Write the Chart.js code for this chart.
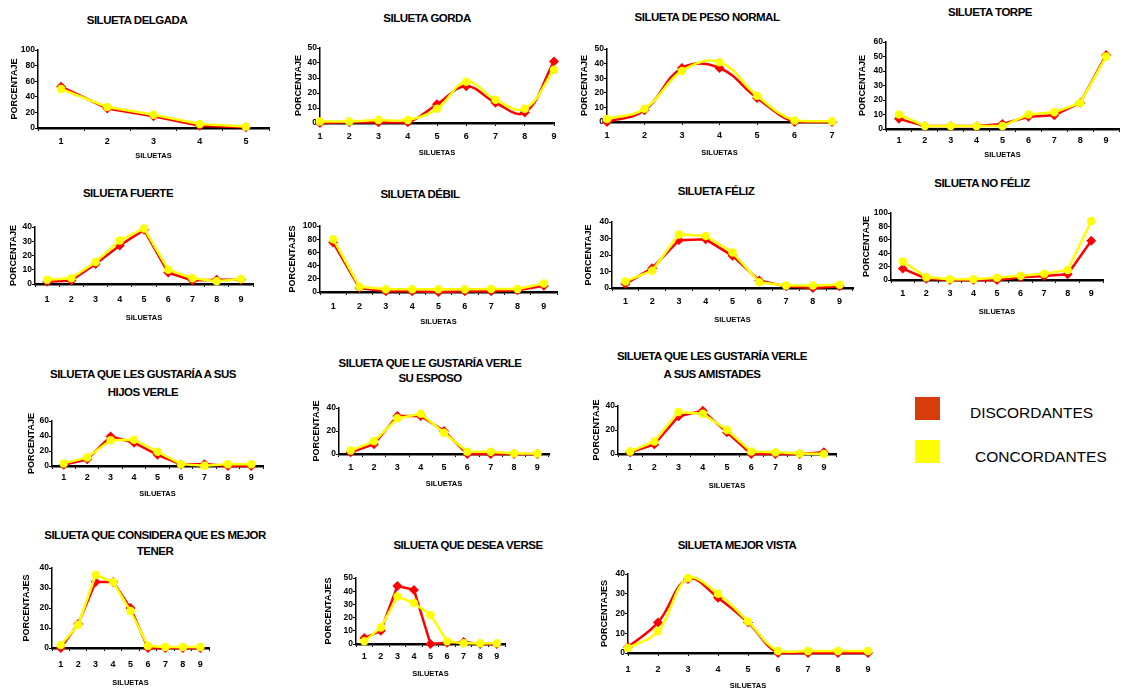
<!DOCTYPE html>
<html>
<head>
<meta charset="utf-8">
<script src="https://cdn.jsdelivr.net/npm/chart.js@4.4.1/dist/chart.umd.min.js"></script>
<style>
  body { margin: 0; width: 1123px; height: 689px; background: #fff; position: relative; overflow: hidden;
         font-family: "Liberation Sans", Arial, sans-serif; }
  .ttl { position: absolute; transform: translate(-50%, -50%); font-weight: bold; font-size: 11.5px;
         letter-spacing: -0.5px; white-space: nowrap; color: #000; }
  .box { position: absolute; }
  .sw { position: absolute; width: 25px; height: 23px; }
  .lt { position: absolute; font-size: 15.5px; color: #000; transform: translateY(-50%); }
</style>
</head>
<body>
<div class="sw" style="left:915px;top:397px;background:#d63c0c"></div>
<div class="lt" style="left:970px;top:413px">DISCORDANTES</div>
<div class="sw" style="left:915px;top:440px;background:#ffff00"></div>
<div class="lt" style="left:975px;top:457px">CONCORDANTES</div>

<script>
// categories
const cats5 = ['1', '2', '3', '4', '5'];
const cats7 = ['1', '2', '3', '4', '5', '6', '7'];
const cats9 = ['1', '2', '3', '4', '5', '6', '7', '8', '9'];

// series: Disc = DISCORDANTES (red), Conc = CONCORDANTES (yellow)
const delgadaDisc = [53, 25, 15, 3, 1];
const delgadaConc = [50, 27, 17, 5, 2];
const gordaDisc = [0, 0.5, 0.5, 0.5, 12.5, 24.5, 13.5, 7, 41];
const gordaConc = [1, 1, 2, 2, 9.5, 27.5, 15.5, 9.5, 35.5];
const pesoDisc = [0, 8, 37, 37, 16.5, 0, 0];
const pesoConc = [2, 9, 35, 41, 18, 1, 0.5];
const torpeDisc = [7, 2, 2, 2, 3.5, 8.5, 9.5, 18, 51];
const torpeConc = [10, 2, 2, 2, 2, 10, 11.5, 18, 50];
const fuerteDisc = [1.5, 2.5, 14, 27, 38, 8, 2.5, 3, 3];
const fuerteConc = [3, 4, 15.5, 30.5, 39, 10, 4, 2, 3.5];
const debilDisc = [75, 6, 1, 1, 0, 1, 1, 2.5, 9.5];
const debilConc = [80, 8, 4, 4, 4, 4, 4.5, 4.5, 13];
const felizDisc = [2.5, 12, 29, 29.5, 19.5, 4.5, 1, 0, 1];
const felizConc = [4, 10.5, 32.5, 31.5, 21.5, 3.5, 1.5, 1.5, 2];
const nofelizDisc = [17, 2, 0, 0, 0, 4, 6, 8.5, 58.5];
const nofelizConc = [27.5, 4, 1, 1, 3.5, 6.5, 9.5, 15, 88];
const hijosDisc = [1.5, 9, 39.5, 31, 15, 2, 2.5, 0, 0];
const hijosConc = [3.5, 11.5, 34.5, 35, 19, 2.5, 0.5, 2.5, 2.5];
const esposoDisc = [1.5, 8.5, 33, 33, 20, 0, 0, 0, 0];
const esposoConc = [3, 11, 31, 35, 18.5, 2, 2, 0.5, 0.5];
const amistadesDisc = [1.5, 8, 31.5, 36, 18, 0, 0, 0, 1.5];
const amistadesConc = [2, 10.5, 35, 33.5, 20, 2, 1.5, 0.5, 0];
const tenerDisc = [0, 12, 33, 33, 20, 0, 0, 0, 0];
const tenerConc = [1.5, 11.5, 36.5, 33, 18.5, 1, 0.5, 0.5, 0.5];
const deseaDisc = [4.5, 10, 44, 41, 0, 1, 1.5, 0, 0];
const deseaConc = [2, 12.5, 36, 31, 22, 2, 0.5, 0.5, 0.5];
const vistaDisc = [3, 15.5, 37.5, 28, 15.5, 0, 0, 0, 0];
const vistaConc = [2.5, 11, 38, 30, 16, 1, 1, 1, 1];

const charts = [
  { title: ['SILUETA DELGADA'], labels: cats5, disc: delgadaDisc, conc: delgadaConc, yMax: 100, yStep: 20, yTitle: 'PORCENTAJE', offset: true },
  { title: ['SILUETA GORDA'], labels: cats9, disc: gordaDisc, conc: gordaConc, yMax: 50, yStep: 10, yTitle: 'PORCENTAJE', offset: false, smooth: true },
  { title: ['SILUETA DE PESO  NORMAL'], labels: cats7, disc: pesoDisc, conc: pesoConc, yMax: 50, yStep: 10, yTitle: 'PORCENTAJE', offset: false, smooth: true },
  { title: ['SILUETA TORPE'], labels: cats9, disc: torpeDisc, conc: torpeConc, yMax: 60, yStep: 10, yTitle: 'PORCENTAJE', offset: true },
  { title: ['SILUETA FUERTE'], labels: cats9, disc: fuerteDisc, conc: fuerteConc, yMax: 40, yStep: 10, yTitle: 'PORCENTAJE', offset: true },
  { title: ['SILUETA DÉBIL'], labels: cats9, disc: debilDisc, conc: debilConc, yMax: 100, yStep: 20, yTitle: 'PORCENTAJES', offset: true },
  { title: ['SILUETA FÉLIZ'], labels: cats9, disc: felizDisc, conc: felizConc, yMax: 40, yStep: 10, yTitle: 'PORCENTAJE', offset: true },
  { title: ['SILUETA NO FÉLIZ'], labels: cats9, disc: nofelizDisc, conc: nofelizConc, yMax: 100, yStep: 20, yTitle: 'PORCENTAJE', offset: true },
  { title: ['SILUETA QUE LES GUSTARÍA A SUS', 'HIJOS  VERLE'], labels: cats9, disc: hijosDisc, conc: hijosConc, yMax: 60, yStep: 20, yTitle: 'PORCENTAJE', offset: true },
  { title: ['SILUETA QUE LE GUSTARÍA VERLE', 'SU ESPOSO'], labels: cats9, disc: esposoDisc, conc: esposoConc, yMax: 40, yStep: 10, yTitle: 'PORCENTAJE', offset: true },
  { title: ['SILUETA QUE LES GUSTARÍA VERLE', 'A SUS AMISTADES'], labels: cats9, disc: amistadesDisc, conc: amistadesConc, yMax: 40, yStep: 10, yTitle: 'PORCENTAJE', offset: true },
  { title: ['SILUETA QUE CONSIDERA QUE ES MEJOR', 'TENER'], labels: cats9, disc: tenerDisc, conc: tenerConc, yMax: 40, yStep: 10, yTitle: 'PORCENTAJES', offset: true },
  { title: ['SILUETA QUE DESEA VERSE'], labels: cats9, disc: deseaDisc, conc: deseaConc, yMax: 50, yStep: 10, yTitle: 'PORCENTAJES', offset: true },
  { title: ['SILUETA MEJOR  VISTA'], labels: cats9, disc: vistaDisc, conc: vistaConc, yMax: 40, yStep: 10, yTitle: 'PORCENTAJES', offset: false, smooth: true }
];

// page positions (px) for each panel: title centre, plot box, tick/title rows
const boxes = [
  { tx: 137, ty: [20], ax: 38, right: 269, top: 50, bottom: 128, tickY: 142, yTitleX: 15, xTitleY: 156 },
  { tx: 427, ty: [18], ax: 320, right: 554, top: 48, bottom: 123, tickY: 137, yTitleX: 299, xTitleY: 153 },
  { tx: 707, ty: [17], ax: 607, right: 832, top: 49, bottom: 122, tickY: 136, yTitleX: 585, xTitleY: 153 },
  { tx: 990, ty: [12], ax: 886, right: 1119, top: 42, bottom: 129, tickY: 141, yTitleX: 863, xTitleY: 155 },
  { tx: 128, ty: [193], ax: 35, right: 253, top: 227, bottom: 284, tickY: 300, yTitleX: 14, xTitleY: 318 },
  { tx: 420, ty: [194], ax: 320, right: 557, top: 226, bottom: 292, tickY: 307, yTitleX: 293, xTitleY: 322 },
  { tx: 716, ty: [191], ax: 612, right: 853, top: 222, bottom: 288, tickY: 302, yTitleX: 589, xTitleY: 320 },
  { tx: 982, ty: [183], ax: 891, right: 1103, top: 213, bottom: 280, tickY: 294, yTitleX: 867, xTitleY: 312 },
  { tx: 143, ty: [374, 392], ax: 52, right: 263, top: 421, bottom: 466, tickY: 478, yTitleX: 32, xTitleY: 494 },
  { tx: 430, ty: [363, 378], ax: 339, right: 549, top: 408, bottom: 454, tickY: 468, yTitleX: 317, xTitleY: 484 },
  { tx: 712, ty: [356, 374], ax: 618, right: 836, top: 406, bottom: 454, tickY: 468, yTitleX: 597, xTitleY: 486 },
  { tx: 155, ty: [535, 551], ax: 52, right: 209, top: 568, bottom: 648, tickY: 665, yTitleX: 27, xTitleY: 683 },
  { tx: 468, ty: [545], ax: 356, right: 505, top: 578, bottom: 644, tickY: 657, yTitleX: 329, xTitleY: 674 },
  { tx: 737, ty: [545], ax: 628, right: 868, top: 574, bottom: 653, tickY: 670, yTitleX: 605, xTitleY: 686 }
];

const RED = '#ff0000';
const YELLOW = '#ffff00';
const FONT = '"Liberation Sans", Arial, sans-serif';
const PAD_TOP = 8, PAD_RIGHT = 12, EDGE = 7, TICK = 3;

charts.forEach((c, i) => {
  const b = boxes[i];

  b.ty.forEach((y, k) => {
    const t = document.createElement('div');
    t.className = 'ttl';
    t.style.left = b.tx + 'px';
    t.style.top = y + 'px';
    t.textContent = c.title[k];
    document.body.appendChild(t);
  });

  const left = b.yTitleX - EDGE;
  const top = b.top - PAD_TOP;
  const w = b.right + PAD_RIGHT - left;
  const h = b.xTitleY + EDGE - top;
  const yW = b.ax - left;
  const xH = h - (b.bottom - top);

  const div = document.createElement('div');
  div.className = 'box';
  div.style.left = left + 'px';
  div.style.top = top + 'px';
  div.style.width = w + 'px';
  div.style.height = h + 'px';
  const cv = document.createElement('canvas');
  div.appendChild(cv);
  document.body.appendChild(div);

  const tension = c.smooth ? 0.4 : 0;
  new Chart(cv, {
    type: 'line',
    data: {
      labels: c.labels,
      datasets: [
        { label: 'CONCORDANTES', data: c.conc, borderColor: YELLOW, backgroundColor: YELLOW,
          borderWidth: 2.5, pointStyle: 'circle', pointRadius: 3, tension: tension, clip: false },
        { label: 'DISCORDANTES', data: c.disc, borderColor: RED, backgroundColor: RED,
          borderWidth: 2.5, pointStyle: 'rectRot', pointRadius: 3.2, tension: tension, clip: false }
      ]
    },
    options: {
      responsive: true,
      maintainAspectRatio: false,
      animation: false,
      events: [],
      layout: { padding: { left: 0, top: PAD_TOP, right: PAD_RIGHT, bottom: 0 } },
      plugins: { legend: { display: false }, tooltip: { enabled: false } },
      scales: {
        x: {
          offset: c.offset,
          grid: { offset: c.offset, drawOnChartArea: false, drawTicks: true, tickLength: TICK, color: '#000', lineWidth: 1 },
          border: { display: true, color: '#000', width: 2.5 },
          ticks: { color: '#000', font: { family: FONT, size: 9, weight: 'bold' },
                   padding: b.tickY - b.bottom - TICK - 5.5, maxRotation: 0, autoSkip: false },
          title: { display: true, text: 'SILUETAS', color: '#000',
                   font: { family: FONT, size: 7.5, weight: 'bold', lineHeight: 1 },
                   padding: { top: 0, bottom: EDGE - 3.75 } },
          afterFit: s => { s.height = xH; }
        },
        y: {
          min: 0, max: c.yMax,
          grid: { drawOnChartArea: false, drawTicks: true, tickLength: TICK, color: '#000', lineWidth: 1 },
          border: { display: true, color: '#000', width: 1.5 },
          ticks: { stepSize: c.yStep, color: '#000', font: { family: FONT, size: 8.5, weight: 'bold' }, padding: 0 },
          title: { display: true, text: c.yTitle, color: '#000',
                   font: { family: FONT, size: 9, weight: 'bold', lineHeight: 1 },
                   padding: { top: EDGE - 4.5, bottom: 0 } },
          afterFit: s => { s.width = yW; }
        }
      }
    }
  });
});
</script>
</body>
</html>
